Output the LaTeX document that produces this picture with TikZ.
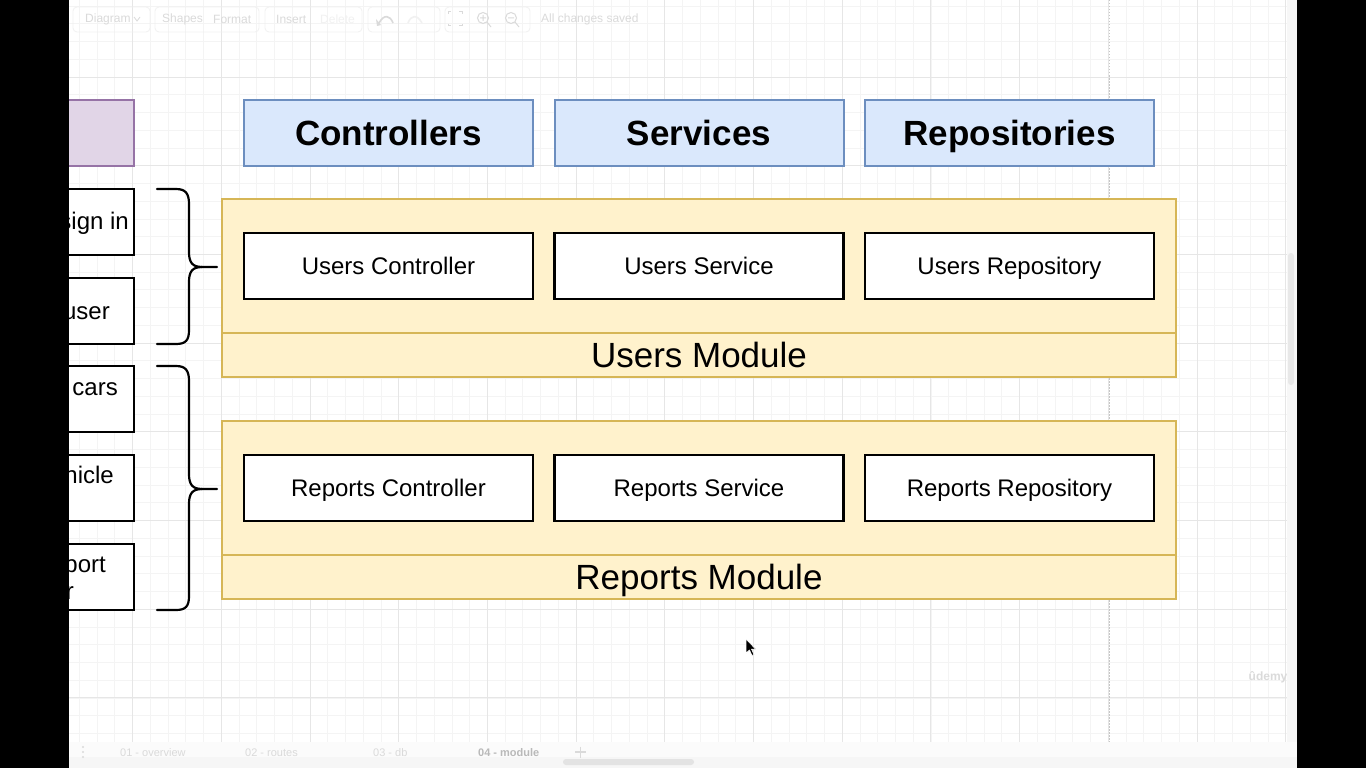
\documentclass[tikz,border=0pt]{standalone}
\usepackage{fontspec}
\setmainfont{Liberation Sans}
\definecolor{hdrfill}{HTML}{DAE8FC}
\definecolor{hdrline}{HTML}{6C8EBF}
\definecolor{modfill}{HTML}{FFF2CC}
\definecolor{modline}{HTML}{D6B656}
\definecolor{purfill}{HTML}{E1D5E7}
\definecolor{purline}{HTML}{9673A6}
\definecolor{gridminor}{HTML}{F4F4F4}
\definecolor{gridmajor}{HTML}{E6E6E6}
\definecolor{uitext}{HTML}{DADADA}
\definecolor{uibox}{HTML}{F1F1F1}
\begin{document}
\begin{tikzpicture}[x=1pt,y=-1pt,
  hdr/.style={draw=hdrline, fill=hdrfill, line width=2pt, minimum width=289, minimum height=66, inner sep=0pt,
    font=\fontsize{35}{42}\selectfont\bfseries, text height=25pt, text depth=0pt},
  comp/.style={draw=black, fill=white, line width=2.4pt, minimum width=289, minimum height=66, inner sep=0pt,
    font=\fontsize{24}{29}\selectfont, text height=17.2pt, text depth=0pt},
  lbox/.style={draw=black, fill=white, line width=2.4pt, minimum width=104, minimum height=66, inner sep=0pt},
  ltext/.style={font=\fontsize{24}{29}\selectfont, inner sep=0pt},
  module/.style={draw=modline, fill=modfill, line width=2pt, minimum width=954, minimum height=178, inner sep=0pt},
  modlabel/.style={font=\fontsize{35}{42}\selectfont, text height=25pt, text depth=0pt, inner sep=0pt},
  brace/.style={draw=black, line width=2.2pt, line cap=round, line join=round},
  uilabel/.style={font=\fontsize{12}{14}\selectfont, text=uitext, inner sep=0pt, anchor=west},
  uibtn/.style={draw=uibox, line width=0.8pt, rounded corners=4pt},
  tablabel/.style={font=\fontsize{11}{13}\selectfont, text=uitext, inner sep=0pt, anchor=west}
]
\useasboundingbox (0,0) rectangle (1366,768);
\fill[white] (0,0) rectangle (1366,768);

% ---- grid
\foreach \i in {0,...,70} {
  \pgfmathsetmacro\gx{43.9+17.74*\i}
  \draw[gridminor, line width=0.8pt] (\gx,0) -- (\gx,742);
}
\foreach \i in {0,...,41} {
  \pgfmathsetmacro\gy{6.04+17.74*\i}
  \draw[gridminor, line width=0.8pt] (69,\gy) -- (1287,\gy);
}
\foreach \i in {0,...,14} {
  \pgfmathsetmacro\gx{43.9+88.7*\i}
  \draw[gridmajor, line width=0.9pt] (\gx,0) -- (\gx,742);
}
\foreach \i in {0,...,7} {
  \pgfmathsetmacro\gy{77+88.7*\i}
  \draw[gridmajor, line width=0.9pt] (69,\gy) -- (1287,\gy);
}
\draw[gray!45, line width=0.9pt, dash pattern=on 1.5pt off 1.5pt] (1109,0) -- (1109,750);

% ---- toolbar (faint)
\draw[uibtn] (73,7) rectangle (150,32);
\draw[uibtn] (155,7) rectangle (259,32);
\draw[uibtn] (265,7) rectangle (362,32);
\draw[uibtn] (368,7) rectangle (440,32);
\draw[uibtn] (445,7) rectangle (530,32);
\node[uilabel] (tdiagram) at (85,19) {Diagram};
\draw[uitext, line width=0.8pt] (134,17) -- (137,21) -- (140,17);
\node[uilabel] (tshapes) at (162,19) {Shapes};
\node[uilabel] (tformat) at (213,19) {Format};
\node[uilabel] (tinsert) at (276,19) {Insert};
\node[uilabel, text=uibox] (tdelete) at (320,19) {Delete};
\draw[uitext, line width=1.6pt] (379,23) .. controls (384,14) and (390,15) .. (393,23);
\fill[uitext] (376,19) -- (381,25) -- (377,26) -- cycle;
\draw[uibox, line width=1.6pt] (408,23) .. controls (411,15) and (417,14) .. (422,23);
\draw[uitext, line width=1pt] (448,14) -- (448,12) -- (451,12) (459,12) -- (462,12) -- (462,14)
  (448,24) -- (448,26) -- (451,26) (459,26) -- (462,26) -- (462,24);
\draw[uitext, line width=1pt] (483,18) circle (5.5) (487,22) -- (491,27) (480,18) -- (486,18) (483,15) -- (483,21);
\draw[uitext, line width=1pt] (511,18) circle (5.5) (515,22) -- (519,27) (508,18) -- (514,18);
\node[uilabel] (tsaved) at (541,19) {All changes saved};

% ---- left column (cut by the black bar)
\node[draw=purline, fill=purfill, line width=2pt, minimum width=104, minimum height=66, inner sep=0pt] (actor) at (82,133) {};
\node[lbox] (b1) at (82,222) {};
\node[lbox] (b2) at (82,311) {};
\node[lbox] (b3) at (82,399) {};
\node[lbox] (b4) at (82,488) {};
\node[lbox] (b5) at (82,577) {};
\node[ltext, anchor=base east] (t1) at (129,229) {sign in};
\node[ltext, anchor=base east] (t2) at (110,319) {user};
\node[ltext, anchor=base east] (t3) at (118,395) {cars};
\node[ltext, anchor=base east] (t4) at (114,483) {hicle};
\node[ltext, anchor=base east] (t5) at (106,572) {port};
\node[ltext, anchor=base east] (t6) at (74,599) {r};

% ---- braces
\draw[brace] (157,189) -- (176,189) .. controls (186,189) and (189,194) .. (189,204) -- (189,252)
  .. controls (189,262) and (192,267) .. (202,267) -- (217,267);
\draw[brace] (202,267) .. controls (192,267) and (189,272) .. (189,282) -- (189,330)
  .. controls (189,340) and (186,344) .. (176,344) -- (157,344);
\draw[brace] (157,366) -- (176,366) .. controls (186,366) and (189,371) .. (189,381) -- (189,474)
  .. controls (189,484) and (192,489) .. (202,489) -- (217,489);
\draw[brace] (202,489) .. controls (192,489) and (189,494) .. (189,504) -- (189,596)
  .. controls (189,606) and (186,610) .. (176,610) -- (157,610);

% ---- headers
\node[hdr] (hctrl) at (388.5,133) {Controllers};
\node[hdr] (hsvc) at (699,133) {Services};
\node[hdr] (hrepo) at (1009.5,133) {Repositories};

% ---- users module
\node[module] (umod) at (699,288) {};
\draw[modline, line width=2pt] (umod.west |- 0,333) -- (umod.east |- 0,333);
\node[modlabel] (umodl) at (699,355) {Users Module};
\node[comp] (uctrl) at (388.5,266) {Users Controller};
\node[comp] (usvc) at (699,266) {Users Service};
\node[comp] (urepo) at (1009.5,266) {Users Repository};

% ---- reports module
\node[module] (rmod) at (699,510) {};
\draw[modline, line width=2pt] (rmod.west |- 0,555) -- (rmod.east |- 0,555);
\node[modlabel] (rmodl) at (699,577) {Reports Module};
\node[comp] (rctrl) at (388.5,488) {Reports Controller};
\node[comp] (rsvc) at (699,488) {Reports Service};
\node[comp] (rrepo) at (1009.5,488) {Reports Repository};

% ---- mouse cursor
\filldraw[fill=black, draw=white, line width=0.6pt] (746,639) -- (746,653) -- (749.5,650) -- (752,655.5)
  -- (754,654.5) -- (751.5,649.2) -- (755.5,649) -- cycle;

% ---- watermark
\node[font=\fontsize{12}{14}\selectfont\bfseries, text=uitext, inner sep=0pt] (udemy) at (1268,677) {ûdemy};

% ---- right scrollbar
\fill[gray!6] (1287,0) rectangle (1297,768);
\fill[gray!18, rounded corners=3pt] (1288,253) rectangle (1294,385);

% ---- bottom tab bar
\fill[gray!3] (69,742) rectangle (1297,768);
\fill[gray!7] (69,757) rectangle (1297,768);
\fill[uitext] (83,747) circle (1.2) (83,752) circle (1.2) (83,757) circle (1.2);
\node[tablabel] (tab1) at (120,753) {01 - overview};
\node[tablabel] (tab2) at (245,753) {02 - routes};
\node[tablabel] (tab3) at (373,753) {03 - db};
\node[tablabel, text=gray!55, font=\fontsize{11}{13}\selectfont\bfseries] (tab4) at (478,753) {04 - module};
\draw[uitext, line width=1.2pt] (575,752) -- (586,752) (580.5,746.5) -- (580.5,757.5);
\fill[gray!22, rounded corners=3pt] (563,759) rectangle (694,765);

% ---- black side bars
\fill[black] (0,0) rectangle (69,768);
\fill[black] (1297,0) rectangle (1366,768);
\end{tikzpicture}
\end{document}
